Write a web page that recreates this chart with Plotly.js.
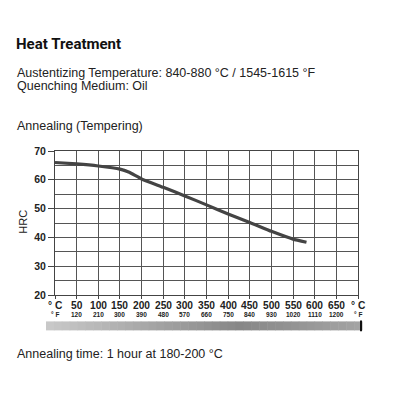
<!DOCTYPE html>
<html>
<head>
<meta charset="utf-8">
<script src="https://cdn.plot.ly/plotly-3.0.1.min.js"></script>
<style>html,body{margin:0;padding:0;background:#fff;}#chart{width:400px;height:400px;}</style>
</head>
<body>
<div id="chart"></div>
<script>
// ---- data ----
const tempC = [0, 50, 100, 150, 170, 200, 250, 300, 350, 400, 450, 500, 550, 581];
const hrc   = [66.0, 65.5, 64.8, 63.7, 62.7, 60.3, 57.4, 54.4, 51.3, 48.1, 45.2, 42.1, 39.4, 38.3];
const cTicks  = [0, 50, 100, 150, 200, 250, 300, 350, 400, 450, 500, 550, 600, 650, 700];
const cLabels = ['° C','50','100','150','200','250','300','350','400','450','500','550','600','650','° C'];
const fLabels = ['° F','120','210','300','390','480','570','660','750','840','930','1020','1110','1200','° F'];
const yTicks  = [20, 30, 40, 50, 60, 70];
const yMinor  = [25, 35, 45, 55, 65];
const titleText = 'Heat Treatment';
const line1 = 'Austentizing Temperature: 840-880 °C / 1545-1615 °F';
const line2 = 'Quenching Medium: Oil';
const line3 = 'Annealing (Tempering)';
const line4 = 'Annealing time: 1 hour at 180-200 °C';

// ---- geometry helpers (pixel -> paper) ----
const L = 55, R = 358, T = 151, B = 295.5;
const px = x => (x - L) / (R - L);
const py = y => (B - y) / (B - T);
const bodyFont = {family: 'Liberation Sans, Arial, sans-serif', size: 12.5, color: '#222'};

const annotations = [];
function txt(text, x, y, font, extra) {
  annotations.push(Object.assign({text: text, xref: 'paper', yref: 'paper', x: px(x), y: py(y),
    xanchor: 'left', yanchor: 'middle', showarrow: false, font: font}, extra || {}));
}
txt(line1, 15, 73, bodyFont);
txt(line2, 15, 86, bodyFont);
txt(line3, 15, 126, bodyFont);
txt(line4, 15, 355, bodyFont);
txt('HRC', 23, 222, {family: 'Liberation Sans, Arial, sans-serif', size: 11, color: '#222'},
    {textangle: -90, xanchor: 'center'});

cTicks.forEach((c, i) => {
  annotations.push({text: '<b>' + cLabels[i] + '</b>', xref: 'x', yref: 'paper', x: c, y: py(306),
    xanchor: 'center', yanchor: 'middle', showarrow: false,
    font: {family: 'Liberation Sans, Arial, sans-serif', size: 10.2, color: '#222'}});
  annotations.push({text: '<b>' + fLabels[i] + '</b>', xref: 'x', yref: 'paper', x: c, y: py(315.5),
    xanchor: 'center', yanchor: 'middle', showarrow: false,
    font: {family: 'Liberation Sans, Arial, sans-serif', size: 6.5, color: '#222'}});
});

// gradient bar under axis
const shapes = [];
const n = 40, x0 = 46, x1 = 362;
function grey(t) {
  let v;
  if (t < 0.6) v = 200 - (t / 0.6) * 65; else v = 135 + ((t - 0.6) / 0.4) * 30;
  v = Math.round(v);
  return 'rgb(' + v + ',' + v + ',' + v + ')';
}
for (let i = 0; i < n; i++) {
  const a = x0 + (x1 - x0) * i / n, b = x0 + (x1 - x0) * (i + 1) / n + 0.5;
  shapes.push({type: 'rect', xref: 'paper', yref: 'paper', x0: px(a), x1: px(b), y0: py(331), y1: py(322),
    fillcolor: grey(i / n), line: {width: 0}, layer: 'below'});
}
shapes.push({type: 'line', xref: 'paper', yref: 'paper', x0: px(361), x1: px(361), y0: py(332), y1: py(321),
  line: {color: '#111', width: 2}});

const trace = {
  x: tempC, y: hrc, type: 'scatter', mode: 'lines',
  line: {color: '#444', width: 3.2, shape: 'spline', smoothing: 0.4},
  hoverinfo: 'skip', showlegend: false
};

const layout = {
  width: 400, height: 400,
  margin: {l: L, r: 400 - R, t: T, b: 400 - B},
  paper_bgcolor: '#fff', plot_bgcolor: '#fff',
  title: {text: '<b>' + titleText + '</b>', xref: 'container', yref: 'container', x: 16 / 400, xanchor: 'left',
    y: 1 - 44 / 400, yanchor: 'middle',
    font: {family: 'Roboto, Liberation Sans, Arial, sans-serif', size: 15, color: '#111'}},
  xaxis: {range: [0, 700], tickvals: cTicks, showticklabels: false, ticks: 'outside', ticklen: 3,
    tickcolor: '#444', showgrid: true, gridcolor: '#555', gridwidth: 1, showline: true, linecolor: '#444',
    linewidth: 1, mirror: true, zeroline: false, fixedrange: true},
  yaxis: {range: [20, 70], tickvals: yTicks, ticks: 'outside', ticklen: 6, tickcolor: '#444',
    tickfont: {family: 'Liberation Sans, Arial, sans-serif', size: 10.5, color: '#222', weight: 'bold'},
    showgrid: true, gridcolor: '#555', gridwidth: 1,
    minor: {tickvals: yMinor, showgrid: true, gridcolor: '#555', gridwidth: 1, ticks: ''},
    showline: true, linecolor: '#444', linewidth: 1, mirror: true, zeroline: false, fixedrange: true},
  annotations: annotations,
  shapes: shapes
};

Plotly.newPlot('chart', [trace], layout, {staticPlot: true, displayModeBar: false});
</script>
</body>
</html>
